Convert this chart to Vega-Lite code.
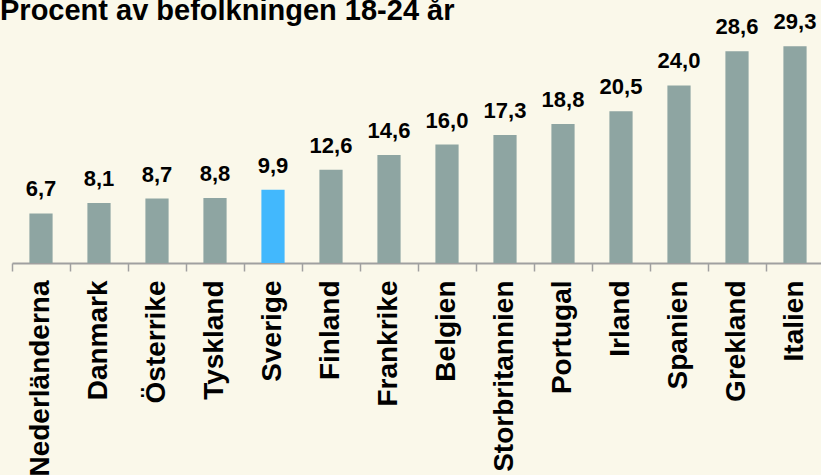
{
  "$schema": "https://vega.github.io/schema/vega-lite/v6.json",
  "autosize": {"type": "none"},
  "width": 812,
  "height": 259,
  "padding": {"left": 12, "top": 4, "right": 0, "bottom": 212},
  "background": "#faf8ea",
  "config": {
    "view": {"stroke": null},
    "font": "Liberation Sans",
    "locale": {"number": {"decimal": ",", "thousands": " ", "grouping": [3], "currency": ["", " kr"]}}
  },
  "title": {
    "text": "Procent av befolkningen 18-24 år",
    "anchor": "start",
    "frame": "group",
    "font": "Liberation Sans",
    "fontSize": 29,
    "fontWeight": "bold",
    "color": "#000000",
    "baseline": "alphabetic",
    "offset": 0,
    "dx": -12,
    "dy": 45
  },
  "data": {
    "values": [
      {"land": "Nederländerna", "procent": 6.7},
      {"land": "Danmark", "procent": 8.1},
      {"land": "Österrike", "procent": 8.7},
      {"land": "Tyskland", "procent": 8.8},
      {"land": "Sverige", "procent": 9.9},
      {"land": "Finland", "procent": 12.6},
      {"land": "Frankrike", "procent": 14.6},
      {"land": "Belgien", "procent": 16.0},
      {"land": "Storbritannien", "procent": 17.3},
      {"land": "Portugal", "procent": 18.8},
      {"land": "Irland", "procent": 20.5},
      {"land": "Spanien", "procent": 24.0},
      {"land": "Grekland", "procent": 28.6},
      {"land": "Italien", "procent": 29.3}
    ]
  },
  "encoding": {
    "x": {
      "field": "land",
      "type": "nominal",
      "sort": null,
      "scale": {"paddingInner": 0, "paddingOuter": 0},
      "axis": {
        "title": null,
        "labelAngle": -90,
        "labelFont": "Liberation Sans",
        "labelFontSize": 28,
        "labelFontWeight": "bold",
        "labelColor": "#000000",
        "labelPadding": 9,
        "labelLimit": 0,
        "labelOverlap": false,
        "labelBaseline": "middle",
        "labelAlign": "right",
        "bandPosition": 0,
        "tickSize": 8,
        "tickColor": "#a0a0a0",
        "tickWidth": 1.5,
        "domainColor": "#a0a0a0",
        "domainWidth": 2,
        "grid": false
      }
    },
    "y": {
      "field": "procent",
      "type": "quantitative",
      "scale": {"domain": [0, 35], "nice": false},
      "axis": null
    }
  },
  "layer": [
    {
      "mark": {"type": "bar", "width": {"band": 0.4}},
      "encoding": {
        "color": {
          "condition": {"test": "datum.land === 'Sverige'", "value": "#42b8fd"},
          "value": "#8ea5a2"
        }
      }
    },
    {
      "mark": {
        "type": "text",
        "baseline": "alphabetic",
        "dy": -17,
        "font": "Liberation Sans",
        "fontSize": 22,
        "fontWeight": "bold",
        "color": "#000000"
      },
      "encoding": {
        "text": {"field": "procent", "type": "quantitative", "format": ".1f"}
      }
    }
  ]
}
